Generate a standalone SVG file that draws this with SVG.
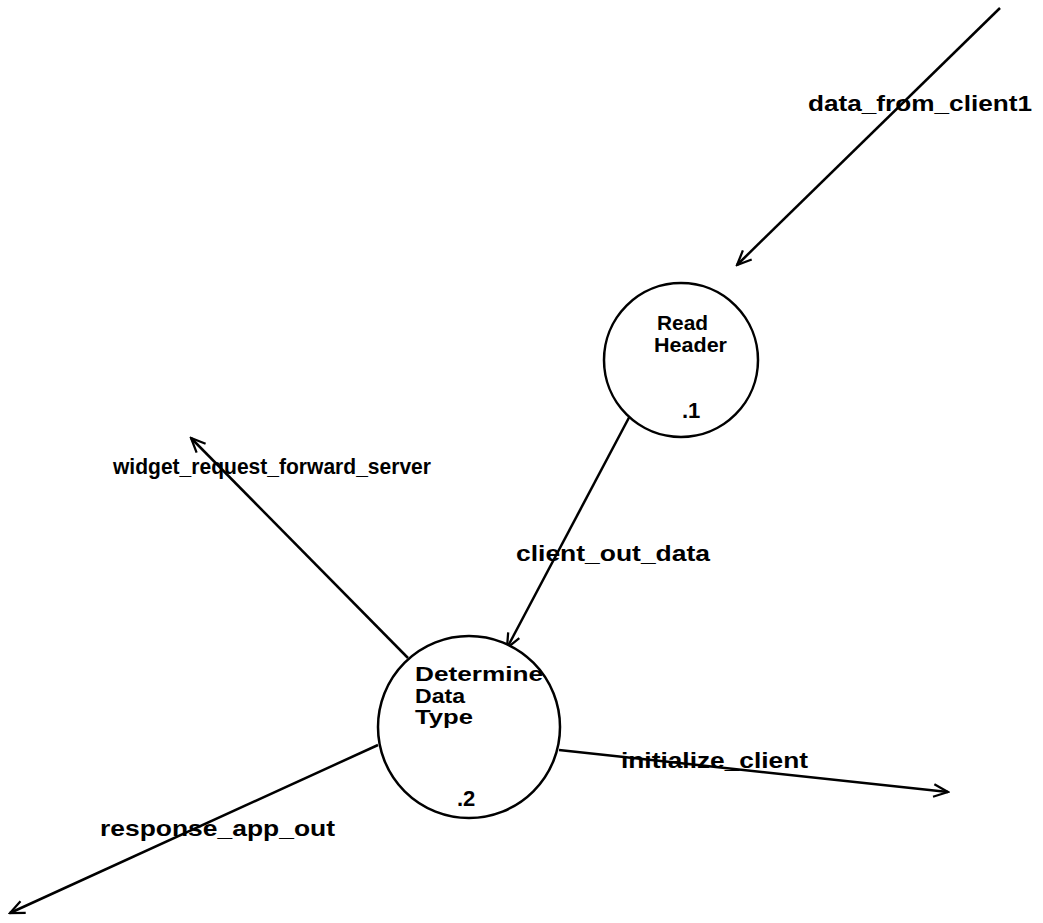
<svg xmlns="http://www.w3.org/2000/svg" width="1043" height="923" viewBox="0 0 1043 923">
<defs>
<marker id="arr" viewBox="0 0 20 20" refX="18" refY="10" markerWidth="18" markerHeight="18" markerUnits="userSpaceOnUse" orient="auto">
<path d="M2,3 L18,10 L2,17" fill="none" stroke="#000" stroke-width="2.5"/>
</marker>
<style>
.n{fill:#fff;stroke:#000;stroke-width:2.5}
.e{fill:none;stroke:#000;stroke-width:2.5;marker-end:url(#arr)}
text{font-family:"Liberation Sans",Arial,sans-serif;font-weight:bold;font-size:22px;fill:#000}
.t{font-size:19.5px}
</style>
</defs>
<rect width="1043" height="923" fill="#fff"/>
<g id="connectors">
<line class="e" x1="1000" y1="8" x2="737" y2="265"/>
<line class="e" x1="633" y1="410" x2="507" y2="648"/>
<line class="e" x1="408" y1="658" x2="191" y2="438"/>
<line class="e" x1="559" y1="750" x2="948" y2="792"/>
<line class="e" x1="378" y1="745" x2="10" y2="913"/>
</g>
<g id="labels">
<text x="808" y="111" textLength="224" lengthAdjust="spacingAndGlyphs">data_from_client1</text>
<text x="113" y="474" textLength="318" lengthAdjust="spacingAndGlyphs">widget_request_forward_server</text>
<text x="516" y="561" textLength="194" lengthAdjust="spacingAndGlyphs">client_out_data</text>
<text x="621" y="768" textLength="187" lengthAdjust="spacingAndGlyphs">initialize_client</text>
<text x="100" y="836" textLength="235" lengthAdjust="spacingAndGlyphs">response_app_out</text>
</g>
<g id="node1">
<circle class="n" cx="681" cy="360" r="77"/>
<text class="t" x="657" y="330" textLength="51" lengthAdjust="spacingAndGlyphs">Read</text>
<text class="t" x="654" y="352" textLength="73" lengthAdjust="spacingAndGlyphs">Header</text>
<text x="682" y="418">.1</text>
</g>
<g id="node2">
<circle class="n" cx="469" cy="727" r="91"/>
<text class="t" x="415" y="681" textLength="128" lengthAdjust="spacingAndGlyphs">Determine</text>
<text class="t" x="415" y="703" textLength="50" lengthAdjust="spacingAndGlyphs">Data</text>
<text class="t" x="415" y="724" textLength="58" lengthAdjust="spacingAndGlyphs">Type</text>
<text x="457" y="806">.2</text>
</g>
</svg>
